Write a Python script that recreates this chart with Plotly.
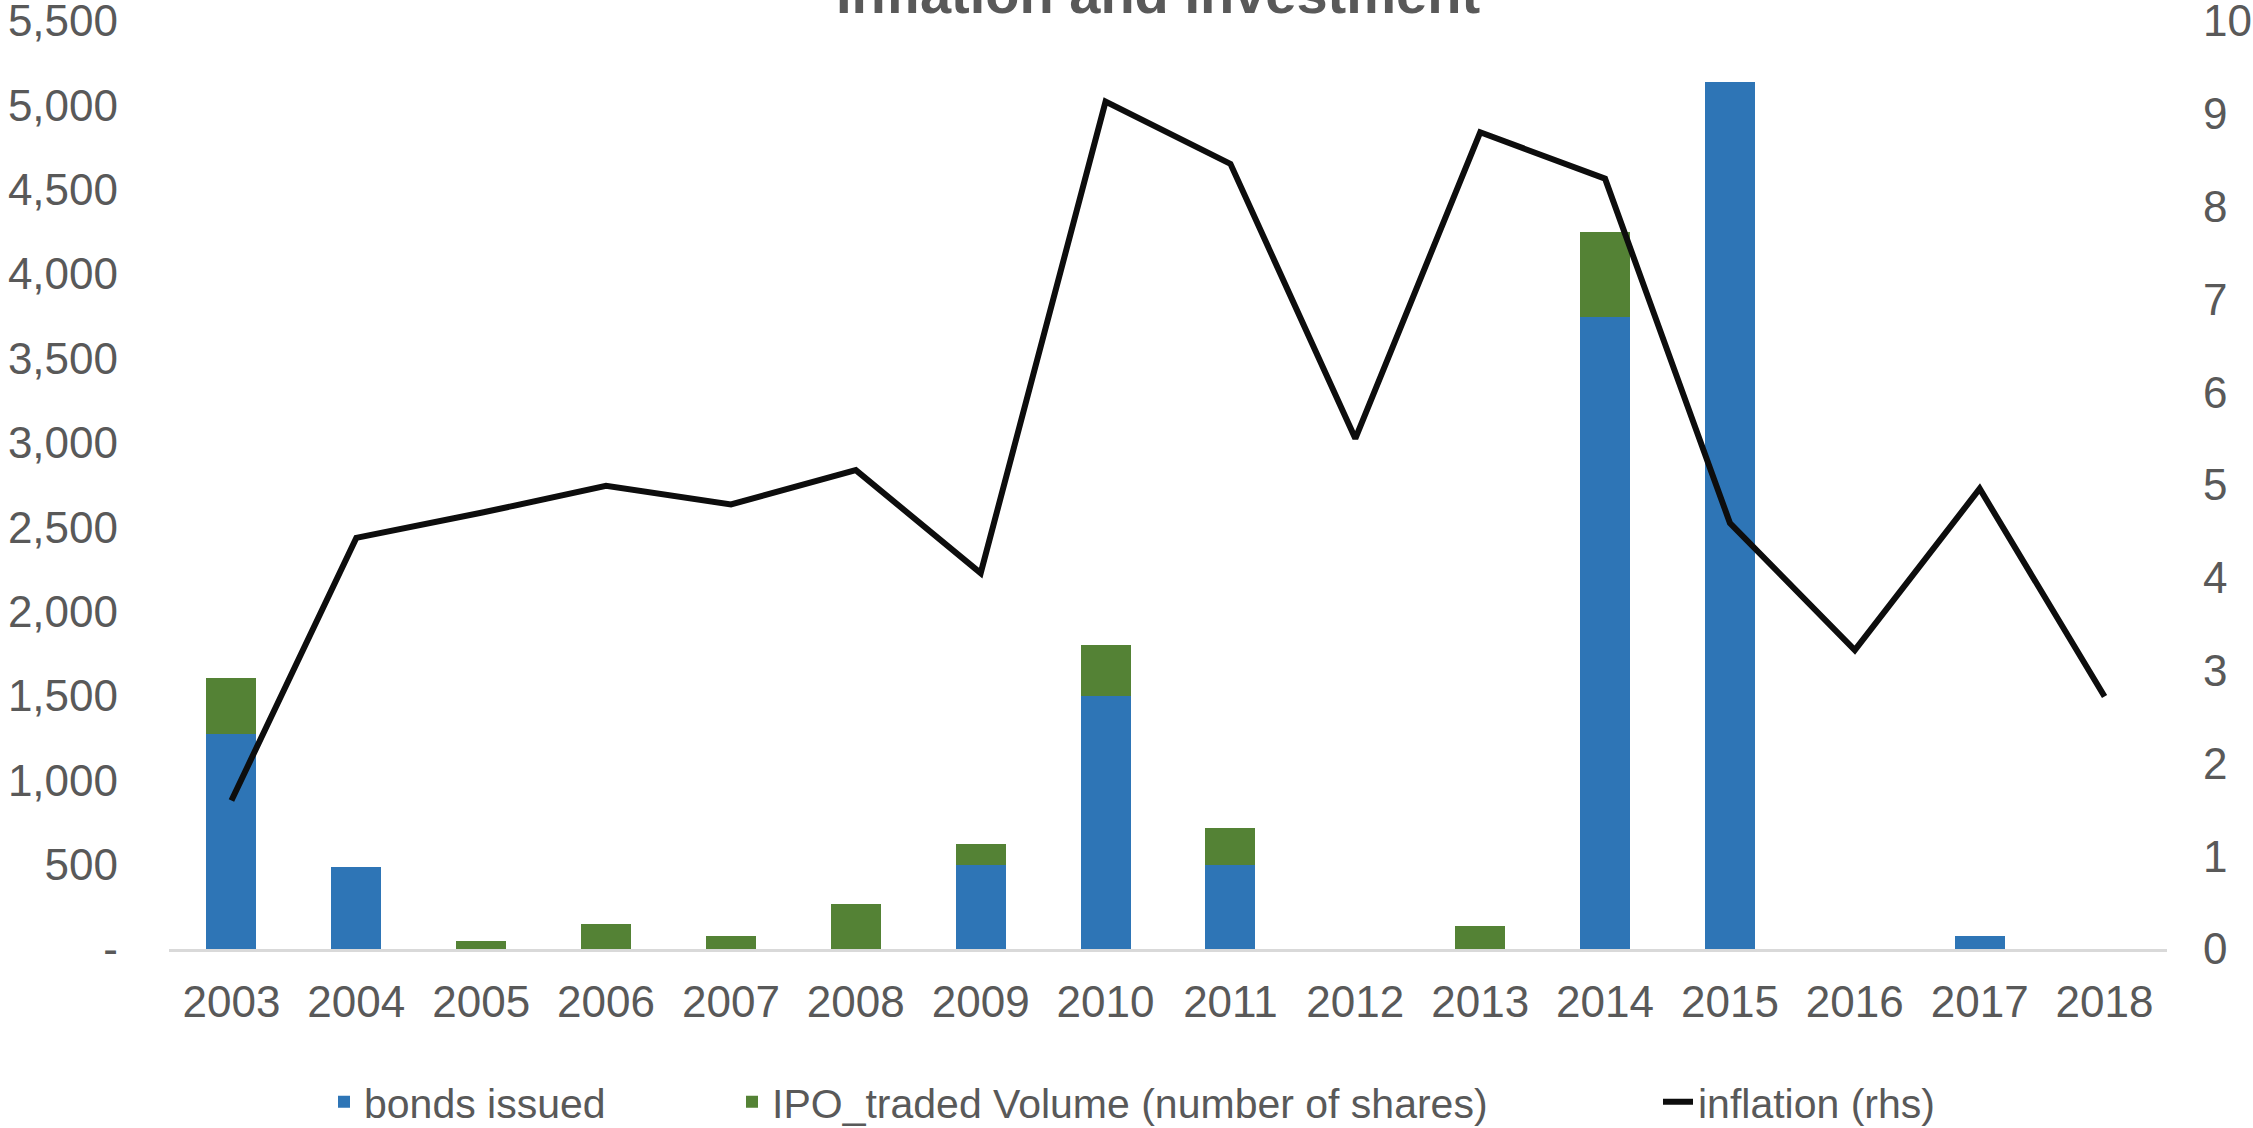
import plotly.graph_objects as go

years = [str(y) for y in range(2003, 2019)]
bonds_issued = [1277, 485, 0, 0, 0, 0, 495, 1500, 495, 0, 0, 3747, 5137, 0, 77, 0]
ipo_volume = [326, 0, 47, 148, 79, 265, 128, 300, 222, 0, 136, 500, 0, 0, 0, 0]
inflation = [1.60, 4.43, 4.70, 4.99, 4.79, 5.16, 4.05, 9.13, 8.46, 5.50, 8.80, 8.30, 4.59, 3.22, 4.96, 2.72]

left_ticks = list(range(0, 5501, 500))
left_ticktext = ["-"] + [f"{v:,}" for v in left_ticks[1:]]
right_ticks = list(range(0, 11))

W, H = 2253, 1128
GRAY = "#595959"
FONT = "Liberation Sans, Arial, sans-serif"

fig = go.Figure()
fig.add_trace(go.Bar(x=years, y=bonds_issued, name="bonds issued",
                     marker=dict(color="#2E75B6", line=dict(width=0)),
                     legend="legend"))
fig.add_trace(go.Bar(x=years, y=ipo_volume, name="IPO_traded Volume (number of shares)",
                     marker=dict(color="#548235", line=dict(width=0)),
                     legend="legend2"))
fig.add_trace(go.Scatter(x=years, y=inflation, name="inflation (rhs)", mode="lines",
                         line=dict(color="#0D0D0D", width=6),
                         yaxis="y2", legend="legend3"))

legend_common = dict(orientation="h", xref="container", yref="container",
                     y=1 - 1102 / H, yanchor="middle", xanchor="left",
                     font=dict(family=FONT, size=41, color=GRAY),
                     bgcolor="rgba(0,0,0,0)", borderwidth=0)

fig.update_layout(
    width=W, height=H,
    paper_bgcolor="white", plot_bgcolor="white",
    barmode="stack", bargap=0.6,
    margin=dict(l=169, r=86, t=20, b=179, autoexpand=False),
    font=dict(family=FONT, color=GRAY),
    title=dict(text="Inflation and Investment", x=1158 / W, xanchor="center",
               xref="container", yref="container", y=1 - 13 / H, yanchor="bottom",
               font=dict(family=FONT, size=56, color=GRAY, weight="bold")),
    xaxis=dict(type="category", showline=True, linecolor="#D9D9D9", linewidth=3,
               showgrid=False, ticks="", zeroline=False,
               tickfont=dict(family=FONT, size=44, color=GRAY),
               ticklabelstandoff=12),
    yaxis=dict(range=[0, 5505], tickvals=left_ticks, ticktext=left_ticktext,
               showgrid=False, zeroline=False, showline=False, ticks="",
               tickfont=dict(family=FONT, size=44, color=GRAY),
               ticklabelstandoff=50, ticklabeloverflow="allow"),
    yaxis2=dict(range=[0, 10.01], tickvals=right_ticks, overlaying="y", side="right",
                showgrid=False, zeroline=False, showline=False, ticks="",
                tickfont=dict(family=FONT, size=44, color=GRAY),
                ticklabelstandoff=35, ticklabeloverflow="allow"),
    legend=dict(legend_common, x=324 / W),
    legend2=dict(legend_common, x=732 / W),
    legend3=dict(legend_common, x=1658 / W),
    showlegend=True,
)

fig.write_html("out.html", config={"displayModeBar": False},
               post_script="document.body.style.margin='0';")
